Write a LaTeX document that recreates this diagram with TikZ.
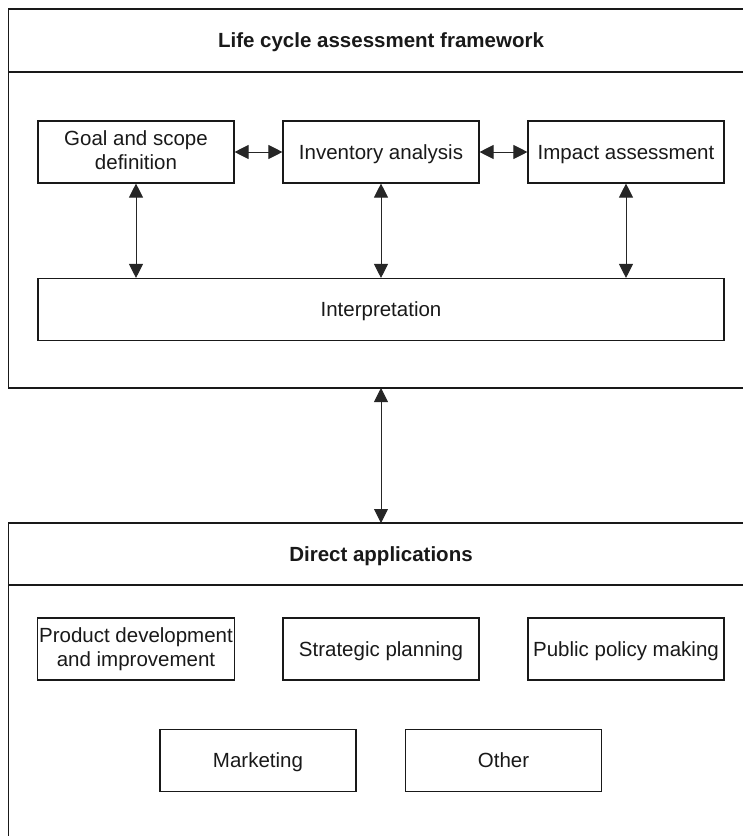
\documentclass[tikz,border=0pt]{standalone}
\usepackage{fontspec}
\setmainfont{Liberation Sans}
\usetikzlibrary{arrows.meta}
\newcommand\boxstrut{\rule[-4.3pt]{0pt}{23.3pt}}
\begin{document}
\begin{tikzpicture}[x=1pt,y=-1pt,
  box/.style={draw=black!90,line width=1.1pt,minimum width=196pt,minimum height=62pt,inner sep=2pt,align=center,font=\fontsize{20.5}{24}\selectfont,text=black!90,execute at begin node={\boxstrut},execute at end node={\boxstrut}},
  frame/.style={draw=black!90,line width=1.5pt},
  title/.style={font=\fontsize{20.5}{24}\selectfont\bfseries,text=black!90},
  link/.style={line width=0.9pt,draw=black!85,{Triangle[length=14pt,width=14pt]}-{Triangle[length=14pt,width=14pt]}}]
\useasboundingbox (0,0) rectangle (743,836);
\begin{scope}
\clip (0,0) rectangle (743,836);
\draw[frame] (8.5,9) rectangle (770,388);
\draw[frame] (8.5,72) -- (770,72);
\draw[frame] (8.5,523) rectangle (770,870);
\draw[frame] (8.5,585) -- (770,585);
\end{scope}
\node[title] (t1) at (381,42) {Life cycle assessment framework};
\node[title] (t2) at (381,556) {Direct applications};
\node[box] (goal) at (136,152) {Goal and scope\\definition};
\node[box] (inv) at (381,152) {Inventory analysis};
\node[box] (imp) at (626,152) {Impact assessment};
\node[box,minimum width=686pt] (interp) at (381,309.5) {Interpretation};
\node[box] (prod) at (136,649) {Product development\\and improvement};
\node[box] (strat) at (381,649) {Strategic planning};
\node[box] (pub) at (626,649) {Public policy making};
\node[box] (mark) at (258,760.5) {Marketing};
\node[box] (oth) at (503.5,760.5) {Other};
\coordinate (ftop) at (381,388);
\coordinate (fbot) at (381,523);
\draw[link] (goal.east) -- (inv.west);
\draw[link] (inv.east) -- (imp.west);
\draw[link] (goal.south) -- (goal.south |- interp.north);
\draw[link] (inv.south) -- (inv.south |- interp.north);
\draw[link] (imp.south) -- (imp.south |- interp.north);
\draw[link] (ftop) -- (fbot);
\end{tikzpicture}
\end{document}
